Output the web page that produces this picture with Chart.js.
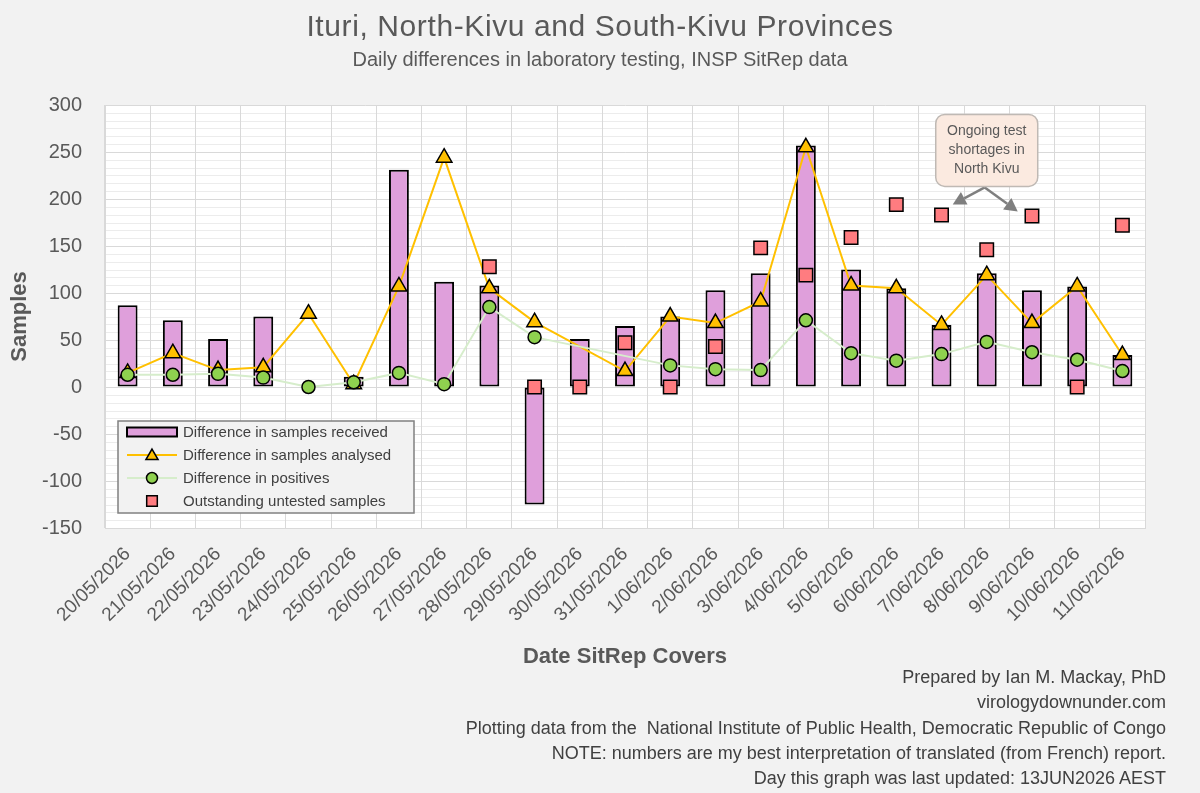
<!DOCTYPE html>
<html>
<head>
<meta charset="utf-8">
<script src="https://cdn.jsdelivr.net/npm/chart.js@4.4.1/dist/chart.umd.min.js"></script>
<style>
    html, body { margin: 0; padding: 0; background: #f2f2f2; }
    #wrap { position: relative; width: 1200px; height: 793px; overflow: hidden; }
    #chart { position: absolute; left: 0; top: 0; }
    .txt { position: absolute; color: #595959; font-family: "Liberation Sans", Arial, sans-serif; white-space: nowrap; }
    #t1 { left: 0; width: 1200px; text-align: center; top: 11px; font-size: 30px; line-height: 30px; letter-spacing: 0.6px; }
    #t2 { left: 0; width: 1200px; text-align: center; top: 49px; font-size: 20px; line-height: 20px; }
    #foot { right: 34px; top: 665px; text-align: right; font-size: 18px; line-height: 25.3px; color: #404040; }
</style>
</head>
<body>
<div id="wrap">
    <canvas id="chart" width="1200" height="793"></canvas>
    <div class="txt" id="t1">Ituri, North-Kivu and South-Kivu Provinces</div>
    <div class="txt" id="t2">Daily differences in laboratory testing, INSP SitRep data</div>
    <div class="txt" id="foot">
        Prepared by Ian M. Mackay, PhD<br>
        virologydownunder.com<br>
        Plotting data from the&nbsp; National Institute of Public Health, Democratic Republic of Congo<br>
        NOTE: numbers are my best interpretation of translated (from French) report.<br>
        Day this graph was last updated: 13JUN2026 AEST
    </div>
</div>
<script>
// dates the SitRep covers
const dates = [
    '20/05/2026', '21/05/2026', '22/05/2026', '23/05/2026', '24/05/2026', '25/05/2026',
    '26/05/2026', '27/05/2026', '28/05/2026', '29/05/2026', '30/05/2026', '31/05/2026',
    '1/06/2026', '2/06/2026', '3/06/2026', '4/06/2026', '5/06/2026', '6/06/2026',
    '7/06/2026', '8/06/2026', '9/06/2026', '10/06/2026', '11/06/2026'
];

// values
const received    = [87, 71, 51, 75, null, 11, 231, 112, 108, -125, 51, 65, 75, 103, 121, 257, 125, 105, 66, 121, 103, 107, 34];
const analysed    = [15, 36, 18, 21, 78, 3, 107, 244, 105, 69, null, 17, 75, 68, 91, 255, 108, 105, 66, 119, 68, 107, 34];
const positives   = [13, 13, 14, 10, 0, 5, 15, 3, 85, 53, null, null, 23, 19, 18, 71, 36, 28, 35, 48, 37, 29, 17];
const outstanding = [null, null, null, null, null, null, null, null, 128, 0, 0, 47, 0, 43, 148, 119, 159, 194, 183, 146, 182, 0, 172];

const yMin = -150, yMax = 300, yStep = 50;
const noteLines = ['Ongoing test', 'shortages in', 'North Kivu'];

const FONT = '"Liberation Sans", Arial, sans-serif';
const C_BAR = '#df9fdb', C_TRI = '#ffc000', C_DOT = '#8fd14f', C_DOTLINE = '#d6edcb', C_SQ = '#ff7c80';

// white plot area + light minor lines, before the grid is drawn
const plotBg = {
    id: 'plotBg',
    beforeDraw(chart) {
        const { ctx, chartArea: a, scales: { y } } = chart;
        ctx.save();
        ctx.fillStyle = '#ffffff';
        ctx.fillRect(a.left, a.top, a.right - a.left, a.bottom - a.top);
        ctx.strokeStyle = '#ececec';
        ctx.lineWidth = 1;
        for (let v = yMin; v < yMax; v += yStep / 6) {
            const py = Math.round(y.getPixelForValue(v)) + 0.5;
            ctx.beginPath();
            ctx.moveTo(a.left, py);
            ctx.lineTo(a.right, py);
            ctx.stroke();
        }
        ctx.restore();
    }
};

// legend box in the lower left of the plot
const boxLegend = {
    id: 'boxLegend',
    afterDatasetsDraw(chart) {
        const { ctx } = chart;
        const x0 = 118, y0 = 421, w = 296, h = 92;
        ctx.save();
        ctx.fillStyle = '#f2f2f2';
        ctx.fillRect(x0, y0, w, h);
        ctx.strokeStyle = '#808080';
        ctx.lineWidth = 1.5;
        ctx.strokeRect(x0, y0, w, h);

        const names = ['Difference in samples received', 'Difference in samples analysed',
                       'Difference in positives', 'Outstanding untested samples'];
        const ix = 152;
        names.forEach((n, i) => {
            const yy = y0 + 11 + i * 23;
            if (i === 0) {
                ctx.fillStyle = C_BAR;
                ctx.strokeStyle = '#000';
                ctx.lineWidth = 2;
                ctx.fillRect(127, yy - 4.5, 50, 9);
                ctx.strokeRect(127, yy - 4.5, 50, 9);
            } else if (i === 1) {
                ctx.strokeStyle = C_TRI; ctx.lineWidth = 2;
                ctx.beginPath(); ctx.moveTo(127, yy); ctx.lineTo(177, yy); ctx.stroke();
                ctx.fillStyle = C_TRI; ctx.strokeStyle = '#000'; ctx.lineWidth = 1.5;
                Chart.helpers.drawPoint(ctx, { pointStyle: 'triangle', radius: 7, rotation: 0, borderWidth: 1.5 }, ix, yy + 1);
            } else if (i === 2) {
                ctx.strokeStyle = C_DOTLINE; ctx.lineWidth = 2;
                ctx.beginPath(); ctx.moveTo(127, yy); ctx.lineTo(177, yy); ctx.stroke();
                ctx.fillStyle = C_DOT; ctx.strokeStyle = '#000'; ctx.lineWidth = 1.5;
                Chart.helpers.drawPoint(ctx, { pointStyle: 'circle', radius: 5.5, rotation: 0, borderWidth: 1.5 }, ix, yy);
            } else {
                ctx.fillStyle = C_SQ; ctx.strokeStyle = '#000'; ctx.lineWidth = 1.5;
                Chart.helpers.drawPoint(ctx, { pointStyle: 'rect', radius: 7.5, rotation: 0, borderWidth: 1.5 }, ix, yy);
            }
            ctx.fillStyle = '#404040';
            ctx.font = '15px ' + FONT;
            ctx.textAlign = 'left';
            ctx.textBaseline = 'middle';
            ctx.fillText(n, 183, yy + 1);
        });
        ctx.restore();
    }
};

// call-out about test shortages
const note = {
    id: 'note',
    afterDatasetsDraw(chart) {
        const { ctx, scales: { x, y } } = chart;
        const cx = x.getPixelForValue(19);
        const top = y.getPixelForValue(290);
        const bw = 102, bh = 72;
        ctx.save();

        const arrow = (x1, y1, x2, y2) => {
            const ang = Math.atan2(y2 - y1, x2 - x1);
            const L = 13, W = 7;
            const bx = x2 - L * Math.cos(ang), by = y2 - L * Math.sin(ang);
            ctx.strokeStyle = '#7f7f7f'; ctx.lineWidth = 2.5;
            ctx.beginPath(); ctx.moveTo(x1, y1); ctx.lineTo(bx, by); ctx.stroke();
            ctx.fillStyle = '#7f7f7f';
            ctx.beginPath();
            ctx.moveTo(x2, y2);
            ctx.lineTo(bx + W * Math.sin(ang), by - W * Math.cos(ang));
            ctx.lineTo(bx - W * Math.sin(ang), by + W * Math.cos(ang));
            ctx.closePath(); ctx.fill();
        };
        arrow(cx - 2, top + bh + 1, cx - 34, top + bh + 18);
        arrow(cx - 2, top + bh + 1, cx + 31, top + bh + 25);

        ctx.beginPath();
        ctx.roundRect(cx - bw / 2, top, bw, bh, 9);
        ctx.fillStyle = '#fbeae0';
        ctx.fill();
        ctx.strokeStyle = '#bfb9b4';
        ctx.lineWidth = 1.5;
        ctx.stroke();

        ctx.fillStyle = '#595959';
        ctx.font = '14px ' + FONT;
        ctx.textAlign = 'center';
        ctx.textBaseline = 'middle';
        noteLines.forEach((t, i) => ctx.fillText(t, cx, top + 17 + i * 19));
        ctx.restore();
    }
};

new Chart(document.getElementById('chart'), {
    type: 'bar',
    data: {
        labels: dates,
        datasets: [
            {
                label: 'Difference in samples received',
                data: received,
                backgroundColor: C_BAR,
                borderColor: '#000000',
                borderWidth: 2,
                borderSkipped: false,
                categoryPercentage: 1,
                barPercentage: 0.44,
                order: 4
            },
            {
                type: 'line',
                label: 'Difference in samples analysed',
                data: analysed,
                borderColor: C_TRI,
                borderWidth: 2,
                spanGaps: true,
                pointStyle: 'triangle',
                pointRadius: 9,
                pointBackgroundColor: C_TRI,
                pointBorderColor: '#000000',
                pointBorderWidth: 1.5,
                order: 3
            },
            {
                type: 'line',
                label: 'Difference in positives',
                data: positives,
                borderColor: C_DOTLINE,
                borderWidth: 2,
                spanGaps: true,
                pointStyle: 'circle',
                pointRadius: 6.5,
                pointBackgroundColor: C_DOT,
                pointBorderColor: '#000000',
                pointBorderWidth: 1.5,
                order: 2
            },
            {
                type: 'line',
                label: 'Outstanding untested samples',
                data: outstanding,
                showLine: false,
                pointStyle: 'rect',
                pointRadius: 9.5,
                pointBackgroundColor: C_SQ,
                pointBorderColor: '#000000',
                pointBorderWidth: 1.5,
                order: 1
            }
        ]
    },
    options: {
        responsive: false,
        animation: false,
        layout: { padding: { top: 105, right: 55, left: 0, bottom: 0 } },
        plugins: {
            legend: { display: false },
            tooltip: { enabled: false }
        },
        scales: {
            x: {
                offset: true,
                grid: { offset: true, color: '#d9d9d9', drawTicks: false },
                border: { color: '#d9d9d9' },
                ticks: {
                    color: '#595959',
                    font: { family: FONT, size: 19 },
                    minRotation: 45,
                    maxRotation: 45,
                    padding: 15,
                    autoSkip: false
                },
                title: {
                    display: true,
                    text: 'Date SitRep Covers',
                    color: '#595959',
                    font: { family: FONT, size: 22, weight: 'bold' },
                    padding: { top: 0, bottom: 123 }
                },
                afterFit(scale) { scale.height = 265; }
            },
            y: {
                min: yMin,
                max: yMax,
                ticks: {
                    stepSize: yStep,
                    color: '#595959',
                    font: { family: FONT, size: 20 },
                    padding: 23
                },
                grid: { color: '#d9d9d9', drawTicks: false },
                border: { color: '#d9d9d9' },
                title: {
                    display: true,
                    text: 'Samples',
                    color: '#595959',
                    font: { family: FONT, size: 22, weight: 'bold' },
                    padding: { top: 7, bottom: 0 }
                },
                afterFit(scale) { scale.width = 105; }
            }
        }
    },
    plugins: [plotBg, boxLegend, note]
});
</script>
</body>
</html>
